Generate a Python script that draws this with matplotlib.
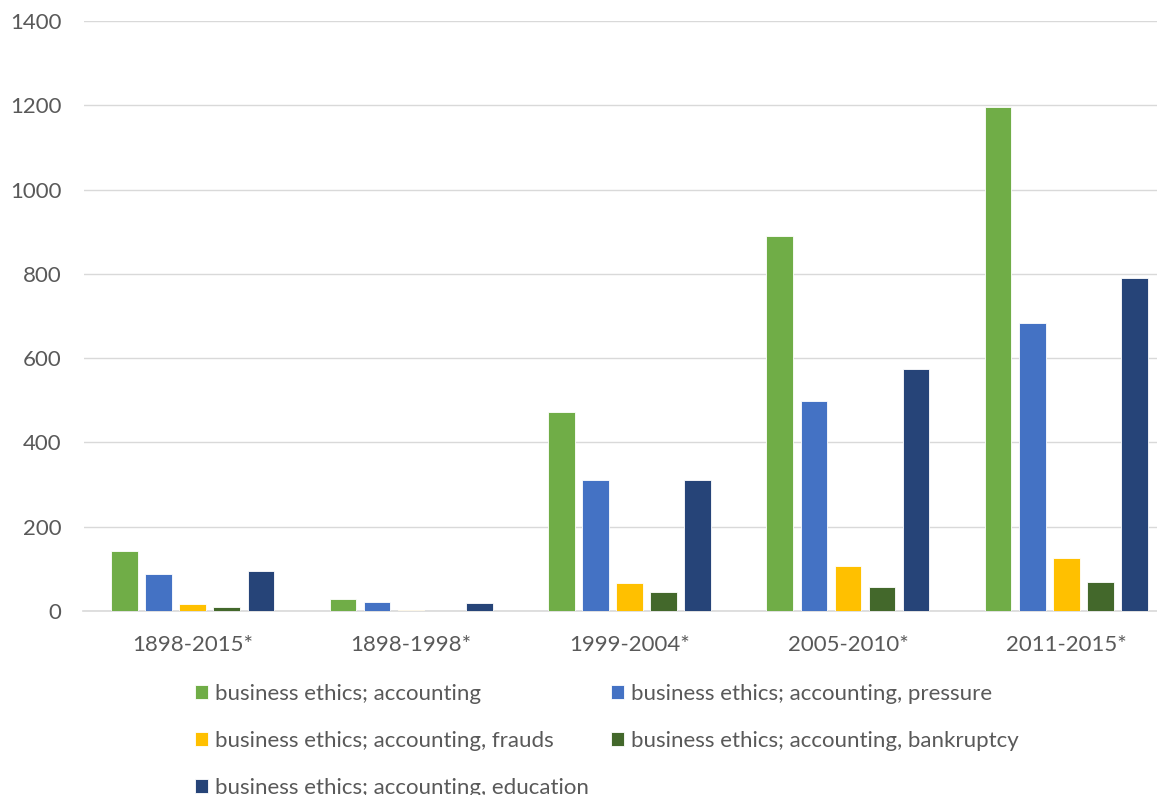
import numpy as np
import matplotlib.pyplot as plt

plt.rcParams['font.family'] = ['Lato', 'DejaVu Sans']

periods = ['1898-2015*', '1898-1998*', '1999-2004*', '2005-2010*', '2011-2015*']
series = ['business ethics; accounting',
          'business ethics; accounting, pressure',
          'business ethics; accounting, frauds',
          'business ethics; accounting, bankruptcy',
          'business ethics; accounting, education']
accounting = [142, 28, 473, 890, 1196]
pressure = [87, 21, 311, 498, 683]
frauds = [17, 2, 66, 107, 126]
bankruptcy = [9, 1, 45, 57, 69]
education = [95, 20, 312, 574, 790]
colors = ['#70AD47', '#4472C4', '#FFC000', '#43682B', '#264478']

values = [accounting, pressure, frauds, bankruptcy, education]

fig = plt.figure(figsize=(11.57, 7.95), dpi=100)
ax = fig.add_axes([83.5/1157, 1 - 611/795, 1092/1157, 590/795])

x = np.arange(len(periods))
step = 0.156
width = 0.122
bars = []
for i, (vals, c) in enumerate(zip(values, colors)):
    b = ax.bar(x + (i - 2) * step, vals, width, color=c, label=series[i],
               edgecolor='white', linewidth=0.6, zorder=3)
    bars.append(b)

ax.set_xlim(-0.5, len(periods) - 0.5)
ax.set_ylim(0, 1400)
ax.set_yticks(range(0, 1401, 200))
ax.set_xticks(x)
ax.set_xticklabels(periods)
ax.tick_params(axis='both', length=0, labelsize=16, colors='#595959')
ax.tick_params(axis='y', pad=16)
ax.tick_params(axis='x', pad=17)
ax.grid(axis='y', color='#D9D9D9', linewidth=1, zorder=0)
for s in ['top', 'right', 'left']:
    ax.spines[s].set_visible(False)
ax.spines['bottom'].set_color('#D9D9D9')
ax.spines['bottom'].set_linewidth(1.2)

order = [0, 2, 4, 1, 3]
fig.legend([bars[i] for i in order], [series[i] for i in order],
           ncol=2, loc='upper left', bbox_to_anchor=(195/1157, 1 - 684/795),
           frameon=False, fontsize=16, handlelength=0.6, handleheight=0.6,
           handletextpad=0.3, columnspacing=1.0, labelspacing=1.22,
           labelcolor='#595959', borderaxespad=0, borderpad=0)

fig.savefig('out.png', dpi=100)
